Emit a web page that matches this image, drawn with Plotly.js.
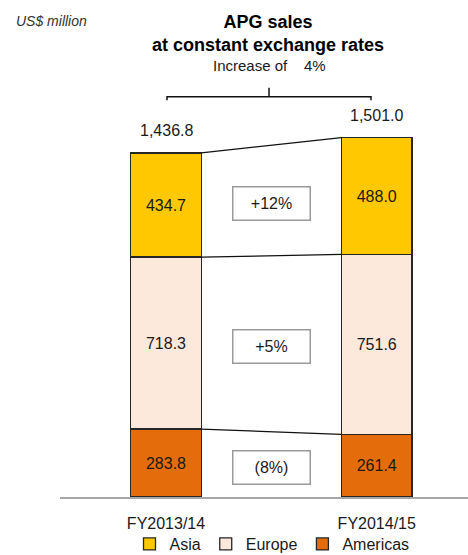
<!DOCTYPE html>
<html><head><meta charset="utf-8">
<script src="https://cdn.plot.ly/plotly-3.0.1.min.js"></script>
<style>html,body{margin:0;padding:0;background:#fff;} #chart{width:468px;height:555px;}</style>
</head><body><div id="chart"></div>
<script>
// ---- data ----
const periods = ['FY2013/14', 'FY2014/15'];
const regionNames = ['Americas', 'Europe', 'Asia'];
const americas = [283.8, 261.4];
const europe = [718.3, 751.6];
const asia = [434.7, 488.0];
const unitLabel = 'US$ million';
const titleText = '<b>APG sales<br>at constant exchange rates</b>';

// ---- styling ----
const FONT = 'Liberation Sans, Arial, sans-serif';
const fillColors = ['#E46C0A', '#FDE9DC', '#FFC800'];
const barW = 0.335;
const xpos = periods.map((_, i) => i);

const series = [americas, europe, asia];
const cum = [];
let run = periods.map(() => 0);
series.forEach(s => { run = run.map((v, i) => v + s[i]); cum.push(run.slice()); });
const totals = cum[cum.length - 1];

function pct(a, b) {
  const r = Math.round((b / a - 1) * 100);
  return r >= 0 ? '+' + r + '%' : '(' + (-r) + '%)';
}
function fmt(v) { return v.toLocaleString('en-US', {minimumFractionDigits: 1, maximumFractionDigits: 1}); }

const traces = series.map((s, k) => ({
  type: 'bar', name: regionNames[k], x: xpos, y: s, width: barW,
  marker: {color: fillColors[k], line: {color: '#262626', width: 1.3}},
  text: s.map(v => v.toFixed(1)), textposition: 'inside', insidetextanchor: 'middle',
  constraintext: 'none',
  textfont: {family: FONT, size: 16, color: '#1a1a1a'},
  hoverinfo: 'skip'
}));

// connecting lines between segment tops
cum.forEach(c => {
  traces.push({
    type: 'scatter', mode: 'lines', x: [xpos[0] + barW / 2, xpos[1] - barW / 2], y: [c[0], c[1]],
    line: {color: '#111', width: 1.2}, showlegend: false, hoverinfo: 'skip'
  });
});

const annotations = [];
// totals above bars
totals.forEach((t, i) => annotations.push({
  x: xpos[i], y: t, xref: 'x', yref: 'y', text: fmt(t), showarrow: false,
  yanchor: 'middle', yshift: 22, font: {family: FONT, size: 16, color: '#1a1a1a'}
}));
// change boxes
series.forEach((s, k) => {
  const base = k === 0 ? [0, 0] : cum[k - 1];
  const mid = (base[0] + s[0] / 2 + base[1] + s[1] / 2) / 2;
  annotations.push({
    x: (xpos[0] + xpos[1]) / 2, y: mid, xref: 'x', yref: 'y', text: pct(s[0], s[1]),
    showarrow: false, yshift: -3, width: 74, height: 30, borderpad: 1,
    bordercolor: '#9a9a9a', borderwidth: 1.5, bgcolor: '#fff',
    font: {family: FONT, size: 16, color: '#1a1a1a'}
  });
});
// increase text
annotations.push({
  x: 0.5123, y: 1.0864, xref: 'paper', yref: 'paper', showarrow: false,
  text: 'Increase of\u00a0\u00a0\u00a0\u00a0' + Math.round((totals[1] / totals[0] - 1) * 100) + '%',
  font: {family: FONT, size: 15, color: '#1a1a1a'}, yanchor: 'middle'
});
// unit label
annotations.push({
  x: -0.1127, y: 1.1997, xref: 'paper', yref: 'paper', xanchor: 'left', yanchor: 'middle',
  showarrow: false, text: '<i>' + unitLabel + '</i>',
  font: {family: FONT, size: 14, color: '#333'}
});

const shapes = [{
  type: 'path', xref: 'paper', yref: 'paper',
  path: 'M 0.2623,0.9995 V 1.0083 H 0.7623 V 0.9995 M 0.5123,1.0083 V 1.031',
  line: {color: '#111', width: 1.5}
}];

const layout = {
  width: 468, height: 555,
  margin: {l: 60, r: 0, t: 100, b: 58},
  paper_bgcolor: '#fff', plot_bgcolor: '#fff',
  barmode: 'stack',
  title: {text: titleText, font: {family: FONT, size: 18, color: '#000'},
    xref: 'container', x: 268 / 468, xanchor: 'center', yref: 'container', y: 1 - 28 / 555, yanchor: 'top'},
  xaxis: {range: [-0.503, 1.433], tickvals: xpos, ticktext: periods, showgrid: false, zeroline: false,
    showline: true, linecolor: '#a6a6a6', linewidth: 2, ticks: '', ticklabelstandoff: 11,
    tickfont: {family: FONT, size: 16, color: '#1a1a1a'}, fixedrange: true},
  yaxis: {range: [0, 1658], visible: false, showgrid: false, zeroline: false, fixedrange: true},
  showlegend: true,
  legend: {orientation: 'h', traceorder: 'reversed', xref: 'container', yref: 'container',
    x: 272 / 468, xanchor: 'center', y: 1 - 544 / 555, yanchor: 'middle',
    font: {family: FONT, size: 16, color: '#1a1a1a'}, itemwidth: 30, bgcolor: 'rgba(0,0,0,0)'},
  annotations: annotations, shapes: shapes
};

Plotly.newPlot('chart', traces, layout, {displayModeBar: false, staticPlot: true});
</script></body></html>
